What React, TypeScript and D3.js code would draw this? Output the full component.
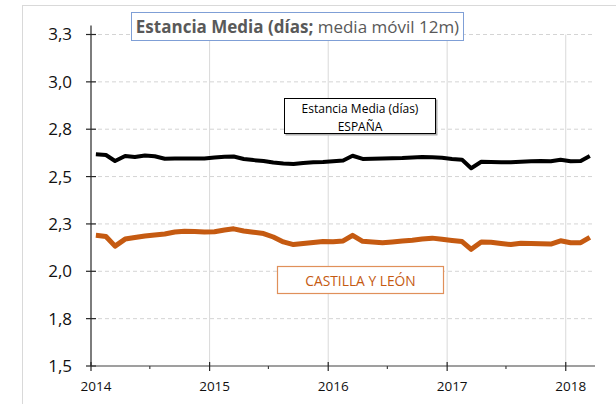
import React from "react";
import * as d3 from "d3";

// monthly series, Jan 2014 - Mar 2018 (12-month moving average)
const espana = [
  2.618, 2.614, 2.582, 2.609, 2.603, 2.611, 2.607, 2.594, 2.595, 2.596, 2.596, 2.596,
  2.601, 2.605, 2.606, 2.593, 2.587, 2.582, 2.574, 2.569, 2.566, 2.572, 2.575, 2.577,
  2.581, 2.585, 2.61, 2.593, 2.594, 2.596, 2.597, 2.598, 2.601, 2.603, 2.602, 2.599,
  2.593, 2.589, 2.544, 2.578, 2.577, 2.575, 2.575, 2.578, 2.581, 2.582, 2.581, 2.589,
  2.581, 2.582, 2.609,
];
const castilla = [
  2.19, 2.184, 2.133, 2.17, 2.178, 2.186, 2.192, 2.197, 2.207, 2.211, 2.21, 2.208,
  2.209, 2.218, 2.224, 2.213, 2.206, 2.199, 2.181, 2.155, 2.141, 2.147, 2.152, 2.157,
  2.156, 2.16, 2.19, 2.158, 2.155, 2.151, 2.155, 2.16, 2.164, 2.17, 2.175, 2.169,
  2.163, 2.157, 2.116, 2.155, 2.153, 2.147, 2.141, 2.148, 2.147, 2.146, 2.144, 2.161,
  2.151, 2.151, 2.179,
];
const yTicks = [1.5, 1.75, 2, 2.25, 2.5, 2.75, 3, 3.25];
const yTickLabels = ["1,5", "1,8", "2,0", "2,3", "2,5", "2,8", "3,0", "3,3"];
const xYears = [2014, 2015, 2016, 2017, 2018];

const font = "'Open Sans', sans-serif";

export default function App() {
  const width = 616;
  const height = 404;

  const start = new Date(2014, 0, 1);
  const end = new Date(2018, 3, 1);
  const months = d3.timeMonth.range(start, end);

  const x = d3.scaleTime().domain([start, end]).range([91, 595]);
  const y = d3.scaleLinear().domain([1.5, 3.25]).range([366, 34.5]);

  const mid = (m: Date) => d3.timeDay.offset(m, 15);

  const line = d3
    .line<number>()
    .x((_, i) => x(mid(months[i])))
    .y((d) => y(d))
    .curve(d3.curveLinear);

  const yearDates = xYears.map((yr) => new Date(yr, 0, 1));
  const halfYears = xYears.slice(0, 4).map((yr) => new Date(yr, 6, 1));
  const plotRight = 593;

  return (
    <svg
      width={width}
      height={height}
      style={{ position: "absolute", left: 0, top: 0, background: "#fff" }}
      fontFamily={font}
    >
      <rect x={22.5} y={5.5} width={700} height={500} fill="#fff" stroke="#d9d9d9" />

      {/* vertical grid */}
      {yearDates.slice(1).map((d, i) => (
        <line key={i} x1={x(d)} x2={x(d)} y1={y(3.25)} y2={y(1.5)} stroke="#d9d9d9" strokeWidth={1} />
      ))}
      {/* horizontal dashed grid */}
      {yTicks.slice(1).map((t, i) => (
        <line
          key={i}
          x1={91}
          x2={plotRight}
          y1={y(t)}
          y2={y(t)}
          stroke="#d4d4d4"
          strokeDasharray="4,3"
          strokeWidth={1}
        />
      ))}

      {/* y axis */}
      <line x1={91} x2={91} y1={y(3.25) - 9} y2={y(1.5)} stroke="#262626" strokeWidth={1.2} />
      {yTicks.map((t, i) => (
        <g key={i}>
          <line x1={86} x2={96} y1={y(t)} y2={y(t)} stroke="#262626" strokeWidth={1.2} />
          <text x={72} y={y(t)} dy="0.35em" textAnchor="end" fontSize={17} fill="#111">
            {yTickLabels[i]}
          </text>
        </g>
      ))}

      {/* x axis */}
      <line x1={91} x2={595} y1={y(1.5)} y2={y(1.5)} stroke="#404040" strokeWidth={1.2} />
      {yearDates.map((d, i) => (
        <g key={i}>
          <line x1={x(d)} x2={x(d)} y1={y(1.5) - 4} y2={y(1.5) + 5} stroke="#262626" strokeWidth={1.2} />
          <text x={x(d) + 5} y={391} textAnchor="middle" fontSize={13.5} fill="#111">
            {xYears[i]}
          </text>
        </g>
      ))}
      {halfYears.map((d, i) => (
        <line key={i} x1={x(d)} x2={x(d)} y1={y(1.5)} y2={y(1.5) + 3} stroke="#404040" strokeWidth={1.2} />
      ))}

      {/* series */}
      <path d={line(espana) ?? ""} fill="none" stroke="#000" strokeWidth={4} strokeLinejoin="round" />
      <path d={line(castilla) ?? ""} fill="none" stroke="#c55a11" strokeWidth={5} strokeLinejoin="round" />

      {/* title box */}
      <rect x={131.5} y={12.5} width={332} height={28} fill="#fff" stroke="#7f9fd6" strokeWidth={1} />
      <text x={297.5} y={32.5} textAnchor="middle" fontSize={17} fill="#595959">
        <tspan fontWeight="bold">Estancia Media (días;</tspan>
        <tspan> media móvil 12m)</tspan>
      </text>

      {/* España label */}
      <rect x={285.5} y={99.5} width={152} height={36} fill="#b0b0b0" />
      <rect x={284.5} y={98.5} width={151} height={35} fill="#fff" stroke="#000" strokeWidth={1} />
      <text x={360} y={113} textAnchor="middle" fontSize={12} fill="#000">
        Estancia Media (días)
      </text>
      <text x={360} y={130.5} textAnchor="middle" fontSize={12} fill="#000">
        ESPAÑA
      </text>

      {/* Castilla y León label */}
      <rect x={277.5} y={266.5} width={166} height={27} fill="#fff" stroke="#e0905a" strokeWidth={1.2} />
      <text x={360.5} y={285.5} textAnchor="middle" fontSize={13.8} fill="#c55a11">
        CASTILLA Y LEÓN
      </text>
    </svg>
  );
}
